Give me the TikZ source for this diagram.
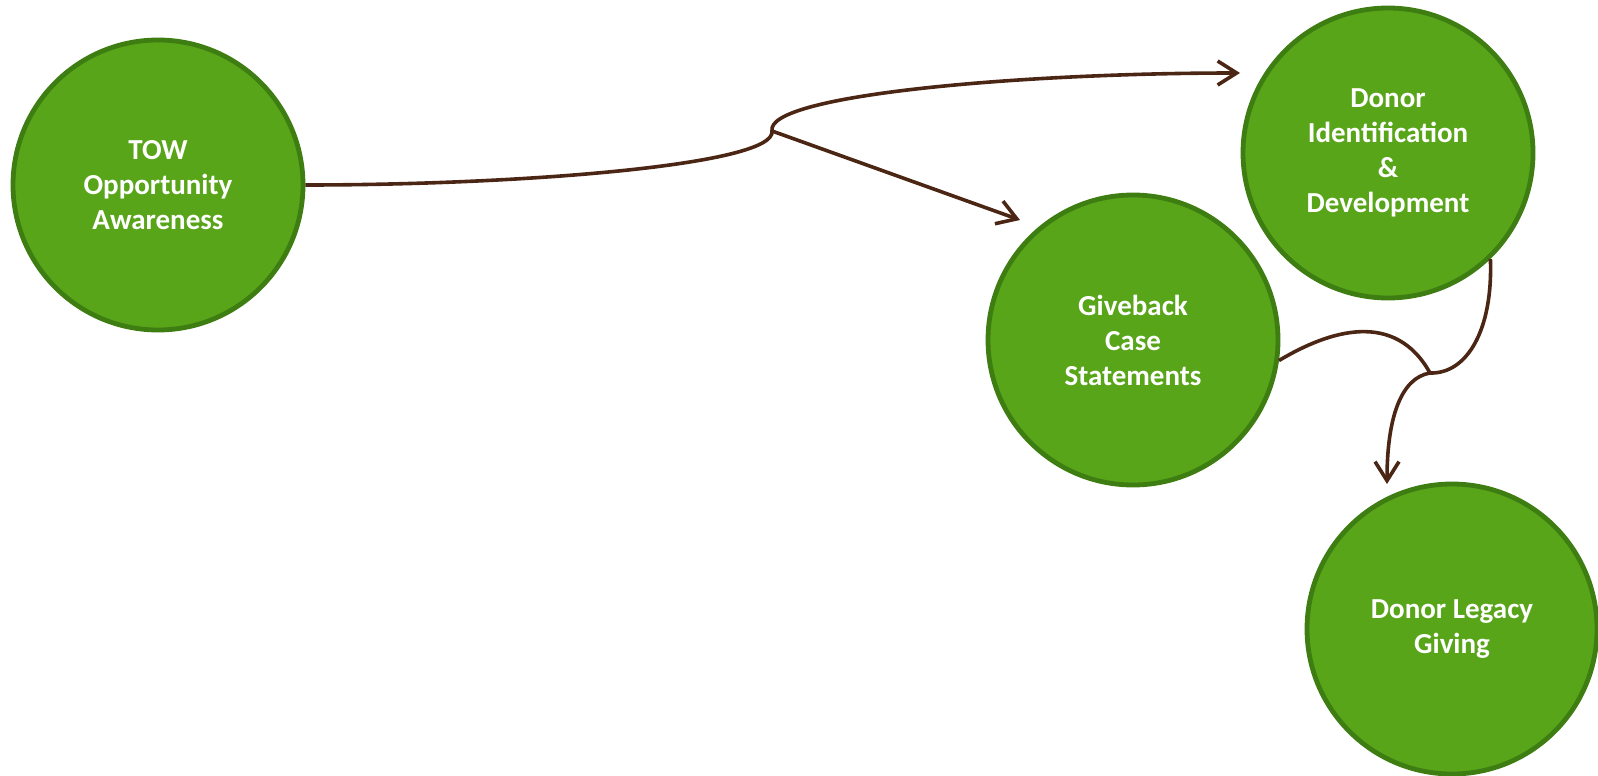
\documentclass[tikz,border=0pt]{standalone}
\usepackage{fontspec}
\setmainfont{Carlito}
\usepackage{xcolor}
\usetikzlibrary{arrows.meta}

\definecolor{leaf}{HTML}{58A51A}
\definecolor{leafline}{HTML}{3E7D12}
\definecolor{bark}{HTML}{4B2614}

\begin{document}
\begin{tikzpicture}[x=0.5pt, y=-0.5pt,
  every node/.style = {shape=circle, draw=leafline, line width=2.4pt,
    fill=leaf, text=white, align=center, minimum size=145pt,
    inner sep=0pt, font=\bfseries\fontsize{14.5}{17.5}\selectfont},
  link/.style = {draw=bark, line width=1.8pt},
  flow/.style = {link,
    -{Straight Barb[length=9.5pt, width=12pt, line width=1.8pt]}}]
  \useasboundingbox (0,0) rectangle (1598,775);
  \node (tow)    at (158,185)  {TOW\\Opportunity\\Awareness};
  \node (donor)  at (1388,153) {Donor\\Identification\\\&\\Development};
  \node (give)   at (1133,340) {Giveback\\Case\\Statements};
  \node (legacy) at (1452,629) {Donor Legacy\\Giving};
  % branch and join points
  \coordinate (split) at (772,131);
  \coordinate (join)  at (1430,373);
  \coordinate (donorin) at (1240,73);
  \coordinate (givein)  at (1020,220);
  \coordinate (legacyin) at (1387,484);
  \draw[link] (tow.east) .. controls (520,185) and (777,165) .. (split);
  \draw[flow] (split) .. controls (765,95) and (1020,73) .. (donorin);
  \draw[flow] (split) -- (givein);
  \draw[link] (give.-8) .. controls (1330,330) and (1395,310) .. (join);
  \draw[link] (donor.-46) .. controls (1493,330) and (1467,374) .. (join);
  \draw[flow] (join) .. controls (1400,378) and (1387,420) .. (legacyin);
\end{tikzpicture}
\end{document}
